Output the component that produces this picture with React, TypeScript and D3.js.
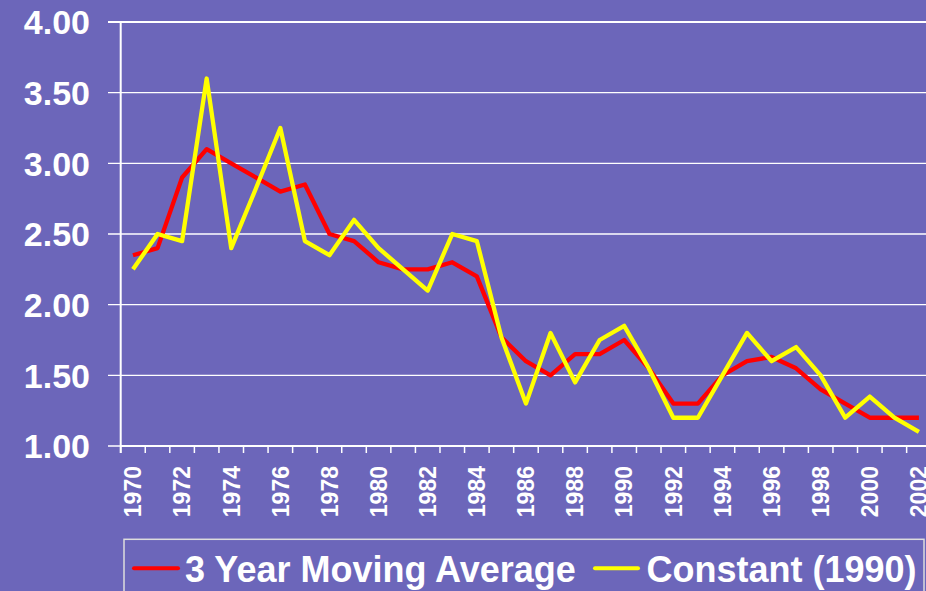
import React from "react";
import * as d3 from "d3";

const years = [
  "1970", "1971", "1972", "1973", "1974", "1975", "1976", "1977", "1978", "1979",
  "1980", "1981", "1982", "1983", "1984", "1985", "1986", "1987", "1988", "1989",
  "1990", "1991", "1992", "1993", "1994", "1995", "1996", "1997", "1998", "1999",
  "2000", "2001", "2002",
];

const movingAverage = [
  2.35, 2.4, 2.9, 3.1, 3.0, 2.9, 2.8, 2.85, 2.5, 2.45,
  2.3, 2.25, 2.25, 2.3, 2.2, 1.77, 1.6, 1.5, 1.65, 1.65,
  1.75, 1.55, 1.3, 1.3, 1.5, 1.6, 1.63, 1.55, 1.4, 1.3,
  1.2, 1.2, 1.2,
];

const constant1990 = [
  2.25, 2.5, 2.45, 3.6, 2.4, 2.82, 3.25, 2.45, 2.35, 2.6,
  2.4, 2.25, 2.1, 2.5, 2.45, 1.77, 1.3, 1.8, 1.45, 1.75,
  1.85, 1.55, 1.2, 1.2, 1.5, 1.8, 1.6, 1.7, 1.5, 1.2,
  1.35, 1.2, 1.1,
];

const yTicks = [1.0, 1.5, 2.0, 2.5, 3.0, 3.5, 4.0];
const xLabelYears = years.filter((_, i) => i % 2 === 0);

const seriesNames = ["3 Year Moving Average", "Constant (1990)"];

const W = 926;
const H = 591;
const BG = "#6C66BA";
const FONT = "'Liberation Sans', Arial, sans-serif";

export default function App() {
  const x = d3.scaleBand<string>().domain(years).range([120.7, 931.2]).padding(0);
  const y = d3.scaleLinear().domain([1, 4]).range([446, 22]);
  const cx = (yr: string) => (x(yr) as number) + x.bandwidth() / 2;

  const line = d3
    .line<number>()
    .x((_, i) => cx(years[i]))
    .y((d) => y(d));

  const fmt = d3.format(".2f");
  const boundaries = d3.range(years.length + 1).map((i) => 120.7 + i * x.step());

  return (
    <svg
      width={W}
      height={H}
      style={{ position: "absolute", left: 0, top: 0, display: "block" }}
    >
      <rect x={0} y={0} width={W} height={H} fill={BG} />

      {yTicks.map((t) => (
        <line
          key={"g" + t}
          x1={108}
          x2={W}
          y1={y(t)}
          y2={y(t)}
          stroke="#ffffff"
          strokeWidth={t === 4 ? 2 : 1.4}
        />
      ))}
      <line x1={120.7} x2={120.7} y1={y(4)} y2={453} stroke="#ffffff" strokeWidth={2} />
      <line x1={120.7} x2={W} y1={446} y2={446} stroke="#ffffff" strokeWidth={2} />
      {boundaries.map((bx, i) => (
        <line key={"xt" + i} x1={bx} x2={bx} y1={446} y2={453} stroke="#ffffff" strokeWidth={1.5} />
      ))}

      {yTicks.map((t) => (
        <text
          key={"yl" + t}
          x={90}
          y={y(t)}
          dy="0.36em"
          textAnchor="end"
          fill="#ffffff"
          fontFamily={FONT}
          fontWeight="bold"
          fontSize={34}
        >
          {fmt(t)}
        </text>
      ))}

      {xLabelYears.map((yr) => (
        <text
          key={"xl" + yr}
          transform={`translate(${cx(yr)},${466}) rotate(-90)`}
          dy="0.36em"
          textAnchor="end"
          fill="#ffffff"
          fontFamily={FONT}
          fontWeight="bold"
          fontSize={23}
        >
          {yr}
        </text>
      ))}

      <path
        d={line(movingAverage) || ""}
        fill="none"
        stroke="#ff0000"
        strokeWidth={4.3}
        strokeLinejoin="round"
      />
      <path
        d={line(constant1990) || ""}
        fill="none"
        stroke="#ffff00"
        strokeWidth={4.3}
        strokeLinejoin="round"
      />

      <rect x={124} y={539.3} width={800} height={80} fill="none" stroke="#dddddd" strokeWidth={1.5} />
      <line x1={134} x2={178} y1={568.3} y2={568.3} stroke="#ff0000" strokeWidth={4} strokeLinecap="round" />
      <text x={185} y={582} fill="#ffffff" fontFamily={FONT} fontWeight="bold" fontSize={36}>
        {seriesNames[0]}
      </text>
      <line x1={595} x2={638} y1={568.3} y2={568.3} stroke="#ffff00" strokeWidth={4} strokeLinecap="round" />
      <text x={646.5} y={582} fill="#ffffff" fontFamily={FONT} fontWeight="bold" fontSize={36}>
        {seriesNames[1]}
      </text>
    </svg>
  );
}
